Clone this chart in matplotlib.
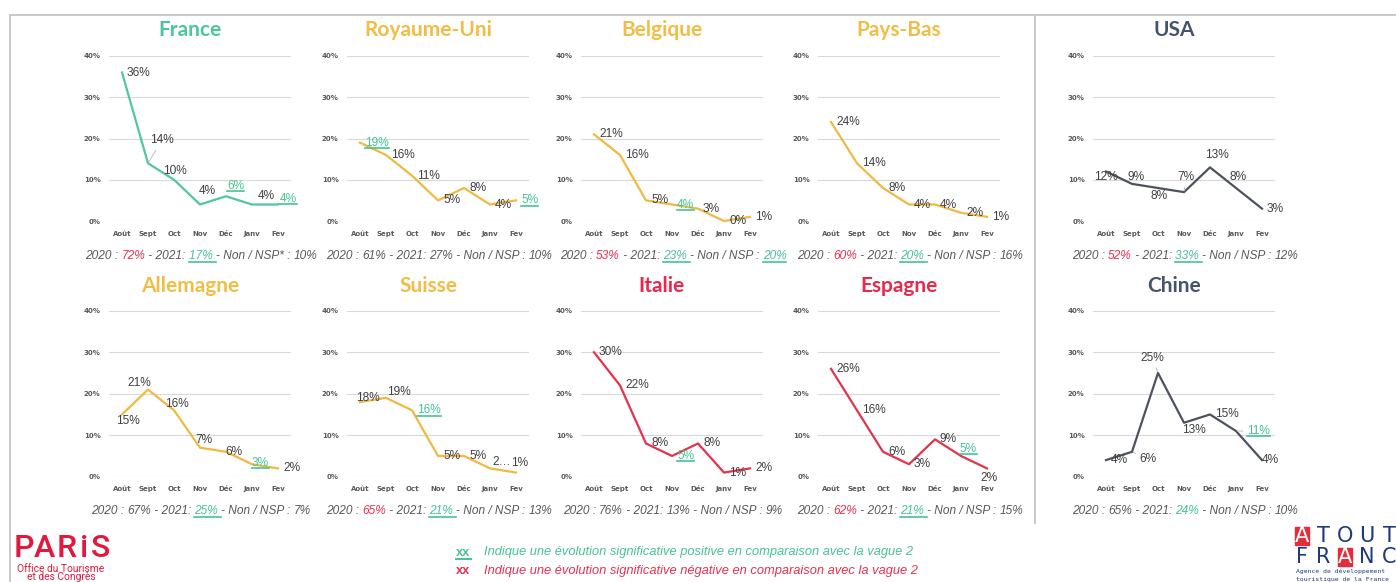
import matplotlib
matplotlib.use('Agg')
import matplotlib.pyplot as plt
import matplotlib.text as mtext
from matplotlib.lines import Line2D
from matplotlib.patches import Rectangle
from matplotlib.transforms import IdentityTransform

# ---- data ----
months = ['Août', 'Sept', 'Oct', 'Nov', 'Déc', 'Janv', 'Fev']
countries = ['France', 'Royaume-Uni', 'Belgique', 'Pays-Bas', 'USA',
             'Allemagne', 'Suisse', 'Italie', 'Espagne', 'Chine']

france = [36, 14, 10, 4, 6, 4, 4]
royaume_uni = [19, 16, 11, 5, 8, 4, 5]
belgique = [21, 16, 5, 4, 3, 0, 1]
pays_bas = [24, 14, 8, 4, 4, 2, 1]
usa = [12, 9, 8, 7, 13, 8, 3]
allemagne = [15, 21, 16, 7, 6, 3, 2]
suisse = [18, 19, 16, 5, 5, 2, 1]
italie = [30, 22, 8, 5, 8, 1, 2]
espagne = [26, 16, 6, 3, 9, 5, 2]
chine = [4, 6, 25, 13, 15, 11, 4]
series = [france, royaume_uni, belgique, pays_bas, usa,
          allemagne, suisse, italie, espagne, chine]

# significant positive evolution (green, underlined labels)
sig_up = {'France': [4, 6], 'Royaume-Uni': [0, 6], 'Belgique': [3],
          'Allemagne': [5], 'Suisse': [2], 'Italie': [3], 'Espagne': [5],
          'Chine': [5]}

pct_2020 = [72, 61, 53, 60, 52, 67, 65, 76, 62, 65]
pct_2021 = [17, 27, 23, 20, 33, 25, 21, 13, 21, 24]
pct_nsp = [10, 10, 20, 16, 12, 7, 13, 9, 15, 10]
red_2020 = ['France', 'Belgique', 'Pays-Bas', 'USA', 'Suisse', 'Espagne']
green_2021 = ['France', 'Belgique', 'Pays-Bas', 'USA', 'Allemagne', 'Suisse', 'Espagne']
green_2021_plain = ['Chine']
green_nsp = ['Belgique']

# ---- styles ----
GREEN = '#45c393'
YELLOW = '#f0b942'
SLATE = '#44546a'
RED = '#ea2f4f'
title_col = {'France': '#4cc69b', 'Royaume-Uni': '#f2bd45', 'Belgique': '#f2bd45',
             'Pays-Bas': '#f2bd45', 'USA': SLATE, 'Allemagne': '#f2bd45',
             'Suisse': '#f2bd45', 'Italie': '#e8294b', 'Espagne': '#e8294b',
             'Chine': SLATE}
line_col = {'France': '#52c79c', 'USA': '#4d535e', 'Chine': '#4d535e',
            'Italie': '#e6324b', 'Espagne': '#e6324b'}
GRAY_TXT = '#404040'
FOOT_GRAY = '#595959'

# label placement: 'r' = right of point, tuple = (dx, dy[, leader]) in pixels
label_pos = {
    'France': ['r', (14, 23, 1), (1, 9), (7, 14), (9.5, 10.5), (14, 8.5, 1), (10, 6)],
    'Royaume-Uni': ['r'] * 7,
    'Belgique': ['r'] * 7,
    'Pays-Bas': ['r'] * 7,
    'USA': [(0, -6), (4, 6.6), (1, -8), (2, 15, 1), (7, 12.4), (2.5, 10.7), 'r'],
    'Allemagne': [(6, -7), (-8.4, 6.2), (3, 6), (3.5, 7.6), (8, 0), (8.5, 1.5), 'r'],
    'Suisse': [(8, 3.7), (13, 5.5), 'r', 'r', 'r', (12, 6), (4, 10)],
    'Italie': ['r'] * 7,
    'Espagne': ['r', 'r', 'r', 'r', 'r', (7.5, 7), (2, -10)],
    'Chine': ['r', (16, -7.5, 1), (-5.4, 15.3, 1), (10, -7), 'r', (22.5, 0, 1), (8, 0)],
}
label_text = {('Suisse', 5): '2…'}

W, H = 1396, 582
fig = plt.figure(figsize=(W / 100, H / 100), dpi=100)
fig.patch.set_facecolor('white')
r = fig.canvas.get_renderer()
ID = IdentityTransform()

col_left = [109, 347, 581, 818, 1093]
AX_W = 182
row_top = [56, 310.7]
row_bot = [221, 476.7]
title_y = [30, 286]
foot_y = [259, 514.5]


def measure(s, **kw):
    t = fig.text(0, 0, s + '|', transform=ID, **kw)
    w = t.get_window_extent(r).width
    t.set_text('|')
    w -= t.get_window_extent(r).width
    t.remove()
    return w


def rich(xc, ytop, parts, **kw):
    full = ''.join(p[0] for p in parts)
    x0 = xc - measure(full, **kw) / 2
    y = H - ytop
    acc = ''
    for s, col, ul in parts:
        x = x0 + (measure(acc, **kw) if acc else 0)
        fig.text(x, y, s, color=col, transform=ID, ha='left', va='baseline', **kw)
        if ul:
            w = measure(s, **kw)
            fig.add_artist(Line2D([x, x + w], [y - 2.5, y - 2.5], color=col,
                                  lw=1.2, transform=ID))
        acc += s


for i, name in enumerate(countries):
    row, col = divmod(i, 5)
    vals = series[i]
    left = col_left[col]
    ax = fig.add_axes([left / W, 1 - row_bot[row] / H, AX_W / W,
                       (row_bot[row] - row_top[row]) / H])
    lc = line_col.get(name, YELLOW)
    ax.plot(range(7), vals, color=lc, lw=1.6, clip_on=False,
            solid_joinstyle='round', zorder=3)
    ax.set_xlim(-0.5, 6.5)
    ax.set_ylim(0, 40)
    ax.set_yticks([0, 10, 20, 30, 40])
    ax.set_yticklabels([f'{v}%' for v in [0, 10, 20, 30, 40]])
    ax.set_xticks(range(7))
    ax.set_xticklabels(months)
    ax.tick_params(length=0, labelsize=5, labelcolor=FOOT_GRAY)
    ax.tick_params(axis='y', pad=6)
    ax.tick_params(axis='x', pad=7)
    for lab in ax.get_xticklabels() + ax.get_yticklabels():
        lab.set_fontweight('bold')
    ax.grid(axis='y', color='#d9d9d9', lw=0.8)
    ax.set_axisbelow(True)
    for s in ax.spines.values():
        s.set_visible(False)

    for j, v in enumerate(vals):
        green = j in sig_up.get(name, [])
        txt = label_text.get((name, j), f'{v}%')
        pos = label_pos[name][j]
        kw = dict(fontsize=8.6, family='Liberation Sans', va='center',
                  color=GREEN if green else GRAY_TXT,
                  textcoords='offset pixels', annotation_clip=False, zorder=4)
        if pos == 'r':
            ann = ax.annotate(txt, (j, v), xytext=(5, 0), ha='left', **kw)
        else:
            ap = None
            if len(pos) > 2:
                ap = dict(arrowstyle='-', color='#bfbfbf', lw=0.7,
                          shrinkA=1, shrinkB=1)
            ann = ax.annotate(txt, (j, v), xytext=(pos[0], pos[1]), ha='center',
                              arrowprops=ap, **kw)
        if green:
            ann.update_positions(r)
            bb = mtext.Text.get_window_extent(ann, r)
            fig.add_artist(Line2D([bb.x0, bb.x1], [bb.y0 + 0.8, bb.y0 + 0.8],
                                  color=GREEN, lw=1.2, transform=ID))

    fig.text((left + 81) / W, 1 - title_y[row] / H, name, ha='center', va='center',
             fontsize=15, fontweight='bold', family='Lato', color=title_col[name])

    nsp_lab = 'NSP* : ' if name == 'France' else 'NSP : '
    parts = [('2020 : ', FOOT_GRAY, False),
             (f'{pct_2020[i]}%', RED if name in red_2020 else FOOT_GRAY, False),
             (' - 2021: ', FOOT_GRAY, False)]
    if name in green_2021:
        parts.append((f'{pct_2021[i]}% ', GREEN, True))
        parts.append(('- Non / ' + nsp_lab, FOOT_GRAY, False))
    else:
        parts.append((f'{pct_2021[i]}%', GREEN if name in green_2021_plain else FOOT_GRAY, False))
        parts.append((' - Non / ' + nsp_lab, FOOT_GRAY, False))
    parts.append((f'{pct_nsp[i]}%', GREEN if name in green_nsp else FOOT_GRAY,
                  name in green_nsp))
    rich(left + 92, foot_y[row], parts, fontsize=8.6, family='Liberation Sans',
         style='italic')

# frame lines
for xs, ys in [([10, W], [15, 15]), ([10, 10], [15, H]), ([1035, 1035], [15, 523])]:
    fig.add_artist(Line2D(xs, [H - y for y in ys], color='#c8c8c8', lw=1.4,
                          transform=ID))

# legend
leg_kw = dict(fontsize=9.3, family='Liberation Sans', transform=ID, va='baseline')
fig.text(456, H - 555.5, 'xx', color=GREEN, fontweight='bold', **leg_kw)
fig.add_artist(Line2D([456, 471], [H - 558.5] * 2, color=GREEN, lw=1.4, transform=ID))
fig.text(484, H - 555.5, 'Indique une évolution significative positive en comparaison avec la vague 2',
         color=GREEN, style='italic', **leg_kw)
fig.text(456, H - 574, 'xx', color=RED, fontweight='bold', **leg_kw)
fig.text(484, H - 574, 'Indique une évolution significative négative en comparaison avec la vague 2',
         color=RED, style='italic', **leg_kw)

# Paris logo
LOGO_RED = '#e2183d'
for ch, x in zip('PARiS', [14, 34, 57, 80, 91]):
    fig.text(x, H - 557, ch, color=LOGO_RED, fontsize=23, family='Roboto',
             fontweight='medium', transform=ID, ha='left', va='baseline')
fig.text(61, H - 572, 'Office du Tourisme', color=LOGO_RED, fontsize=7.4,
         family='Roboto', transform=ID, ha='center', va='baseline')
fig.text(61, H - 580.5, 'et des Congrès', color=LOGO_RED, fontsize=7.4,
         family='Roboto', transform=ID, ha='center', va='baseline')

# Atout France logo
NAVY = '#1e3a78'
for row_txt, yc in [('ATOUT', 536), ('FRANC', 557)]:
    for k, (ch, xc) in enumerate(zip(row_txt, [1302, 1323, 1345, 1367, 1389])):
        boxed = (row_txt == 'ATOUT' and k == 0) or (row_txt == 'FRANC' and k == 2)
        if boxed:
            fig.add_artist(Rectangle((xc - 7, H - yc - 9), 14, 18, color='#e42c3a',
                                     transform=ID))
        fig.text(xc, H - yc, ch, color='white' if boxed else NAVY, fontsize=15,
                 family='DejaVu Sans', transform=ID, ha='center', va='center')
fig.text(1296, H - 573.5, 'Agence de développement', color=NAVY, fontsize=4.6,
         family='DejaVu Sans Mono', transform=ID, ha='left', va='baseline')
fig.text(1296, H - 580.5, 'touristique de la France', color=NAVY, fontsize=4.6,
         family='DejaVu Sans Mono', transform=ID, ha='left', va='baseline')

fig.savefig('out.png', dpi=100)
